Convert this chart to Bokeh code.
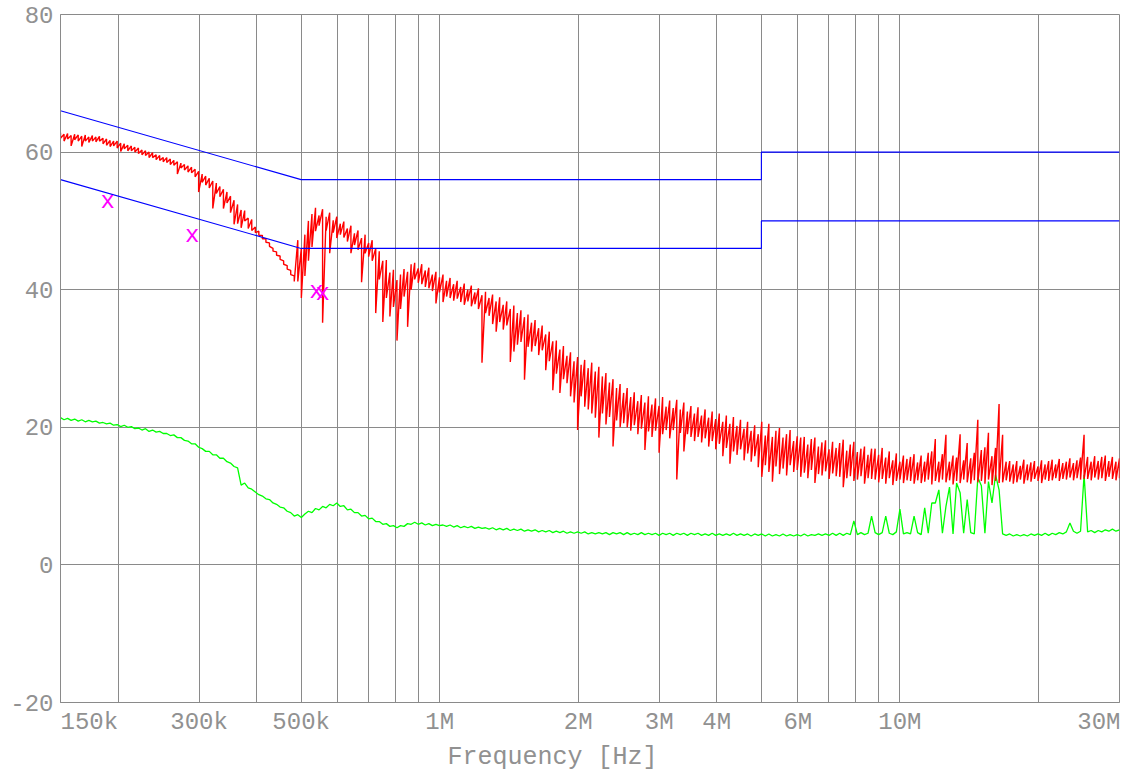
import numpy as np
from bokeh.plotting import figure
from bokeh.models import Range1d, FixedTicker
from bokeh.core.properties import value
from bokeh.embed import file_html
from bokeh.resources import INLINE

# ---------------- data ----------------
f_start = 150e3
f_stop = 30e6
n_points = 300

# peak-detector trace (dBuV): max and min of the trace within each display
# column (min/max decimated, as the receiver display does)
red_hi = [
    62.8, 62.6, 62.7, 62.4, 62.6, 62.5, 62.3, 62.5, 62.2, 62.4,
    62.2, 62.3, 62.0, 61.9, 61.7, 61.6, 61.6, 61.3, 61.2, 61.0,
    60.9, 60.7, 60.6, 60.3, 60.2, 60.0, 59.9, 59.6, 59.5, 59.2,
    59.2, 59.0, 58.8, 58.6, 58.4, 58.2, 58.0, 57.8, 57.5, 57.2,
    56.8, 56.5, 56.2, 55.8, 55.5, 55.0, 54.6, 54.2, 53.6, 53.0,
    52.4, 51.6, 51.5, 50.4, 50.2, 49.1, 48.5, 47.9, 47.4, 46.8,
    46.0, 45.5, 44.9, 44.2, 43.5, 42.8, 42.0, 47.2, 46.0, 48.0,
    50.0, 51.0, 51.9, 50.8, 51.7, 50.6, 51.2, 50.1, 50.6, 49.6,
    49.9, 48.9, 49.3, 48.2, 48.6, 47.5, 48.0, 46.8, 47.2, 46.0,
    45.6, 44.2, 44.3, 42.5, 42.9, 41.4, 42.2, 43.0, 42.6, 43.7,
    43.9, 43.1, 43.7, 42.8, 43.2, 42.2, 42.6, 41.8, 42.2, 41.3,
    41.7, 40.8, 41.3, 40.4, 40.9, 40.0, 40.6, 39.6, 40.2, 39.2,
    39.7, 38.8, 39.3, 38.3, 38.9, 37.8, 38.3, 37.2, 37.7, 36.6,
    37.0, 36.0, 36.4, 35.2, 35.6, 34.4, 34.8, 33.5, 33.9, 32.5,
    32.6, 31.3, 31.8, 30.4, 30.9, 29.6, 30.2, 29.1, 29.8, 28.6,
    29.4, 28.1, 28.8, 27.4, 27.9, 26.5, 27.0, 25.7, 26.3, 25.0,
    25.7, 24.4, 25.1, 23.8, 24.7, 23.6, 24.5, 23.3, 24.2, 23.1,
    24.4, 23.0, 23.9, 22.8, 24.0, 22.6, 23.6, 22.3, 23.1, 22.0,
    22.9, 21.7, 22.6, 21.4, 22.3, 21.2, 22.0, 20.8, 21.7, 20.5,
    21.5, 20.2, 21.1, 19.8, 20.8, 19.5, 20.3, 19.0, 20.8, 18.8,
    20.5, 18.6, 19.5, 19.9, 18.5, 19.0, 19.6, 18.0, 18.7, 18.5,
    18.6, 17.5, 18.3, 18.5, 17.2, 17.8, 18.1, 16.8, 17.9, 17.0,
    17.7, 18.2, 16.6, 17.5, 17.9, 16.4, 16.9, 17.2, 16.0, 16.9,
    16.9, 16.0, 17.0, 15.6, 16.5, 15.2, 16.2, 15.0, 15.9, 15.4,
    15.7, 16.1, 14.9, 15.9, 15.0, 16.3, 16.5, 18.3, 15.0, 16.1,
    18.9, 15.0, 15.9, 15.6, 19.0, 15.2, 17.7, 15.5, 16.3, 21.1,
    16.7, 17.1, 19.2, 15.8, 17.0, 23.4, 18.9, 15.0, 15.1, 14.6,
    15.1, 14.4, 15.3, 14.6, 14.9, 15.1, 14.3, 15.2, 14.6, 15.1,
    15.3, 14.6, 15.4, 14.8, 15.0, 15.5, 14.8, 15.2, 15.6, 18.9,
    15.7, 15.0, 15.8, 15.1, 15.7, 15.9, 15.1, 15.7, 15.0, 15.5,
]
red_lo = [
    62.0, 61.6, 61.9, 60.9, 61.8, 61.6, 60.8, 61.6, 61.4, 61.6,
    61.5, 61.6, 61.2, 61.0, 60.8, 60.9, 60.6, 60.1, 60.5, 60.2,
    60.2, 60.0, 59.8, 59.6, 59.5, 59.2, 59.2, 58.9, 58.8, 58.6,
    58.5, 58.2, 58.1, 56.8, 57.7, 57.4, 57.1, 57.0, 56.4, 54.2,
    55.6, 55.2, 54.8, 51.8, 54.0, 53.5, 51.8, 52.6, 51.2, 49.5,
    49.6, 49.0, 50.0, 48.9, 48.6, 48.3, 47.9, 47.4, 46.9, 46.3,
    45.6, 45.0, 44.4, 43.7, 43.0, 42.2, 41.2, 41.2, 38.8, 42.0,
    44.2, 46.2, 48.5, 49.3, 35.2, 48.6, 45.3, 48.3, 47.5, 48.0,
    47.6, 47.0, 45.3, 46.5, 45.8, 41.1, 45.3, 44.8, 44.2, 36.6,
    41.5, 35.3, 38.8, 36.1, 37.5, 32.6, 37.2, 39.0, 34.6, 40.0,
    41.5, 41.0, 40.8, 40.4, 40.2, 39.8, 38.0, 39.6, 38.2, 39.0,
    38.8, 38.4, 38.7, 38.2, 37.8, 38.3, 37.6, 37.9, 37.2, 29.4,
    36.6, 36.2, 35.0, 33.9, 35.3, 34.2, 34.8, 29.5, 31.0, 32.0,
    32.4, 26.9, 31.7, 31.0, 31.8, 30.5, 31.2, 28.3, 29.6, 25.4,
    27.8, 25.0, 27.0, 26.4, 24.5, 23.6, 19.6, 24.5, 23.0, 22.6,
    22.0, 21.4, 18.5, 22.0, 20.4, 21.5, 17.2, 21.0, 20.0, 20.6,
    20.0, 19.5, 20.3, 19.0, 19.8, 16.7, 19.4, 18.6, 19.5, 16.3,
    19.0, 19.6, 18.4, 19.6, 12.4, 19.2, 16.5, 19.0, 18.6, 18.0,
    18.6, 17.8, 18.4, 17.2, 18.0, 16.8, 17.6, 15.8, 17.0, 14.7,
    16.5, 16.0, 16.8, 15.2, 16.2, 15.0, 15.8, 14.2, 12.8, 14.5,
    13.5, 12.1, 14.3, 13.2, 14.0, 13.0, 14.5, 13.5, 13.8, 12.8,
    13.4, 12.6, 13.8, 11.9, 13.2, 13.0, 13.6, 12.5, 13.3, 12.9,
    12.8, 11.3, 12.6, 12.9, 12.2, 12.4, 12.9, 11.8, 12.6, 12.5,
    12.4, 12.0, 12.5, 11.8, 12.6, 11.6, 12.2, 12.4, 11.9, 12.3,
    12.2, 11.8, 12.3, 11.9, 12.1, 12.4, 11.7, 12.2, 12.0, 12.4,
    12.0, 12.3, 11.7, 12.2, 11.9, 12.4, 12.0, 11.8, 12.3, 12.0,
    12.2, 11.8, 12.4, 11.6, 12.2, 11.9, 12.0, 12.3, 12.1, 11.8,
    12.0, 12.4, 11.8, 12.3, 12.1, 12.5, 12.2, 11.9, 12.4, 12.2,
    12.3, 12.6, 12.2, 12.5, 12.4, 12.7, 12.3, 12.6, 12.4, 12.5,
    12.5, 12.3, 12.7, 12.4, 12.6, 12.2, 12.8, 12.5, 12.3, 12.6,
]

# average-detector trace (dBuV), one value per display column
green_db = [
    21.4, 21.1, 21.3, 21.0, 21.2, 20.9, 21.1, 20.8, 21.0, 20.8,
    20.9, 20.6, 20.7, 20.5, 20.6, 20.3, 20.4, 20.1, 20.3, 20.0,
    20.1, 19.8, 19.9, 19.6, 19.8, 19.4, 19.6, 19.3, 19.4, 19.1,
    19.1, 18.8, 18.9, 18.5, 18.5, 18.1, 18.0, 17.6, 17.6, 17.1,
    16.9, 16.5, 16.5, 16.0, 16.0, 15.5, 15.5, 15.0, 14.8, 14.3,
    14.1, 11.6, 11.9, 11.2, 11.0, 10.6, 10.2, 10.0, 9.6, 9.5,
    9.0, 8.8, 8.4, 8.3, 7.8, 7.6, 7.1, 7.3, 6.9, 7.4,
    7.8, 7.6, 8.2, 8.0, 8.5, 8.3, 8.8, 8.6, 9.0, 8.5,
    8.6, 8.0, 8.1, 7.6, 7.6, 7.1, 7.2, 6.7, 6.8, 6.3,
    6.3, 5.9, 6.0, 5.6, 5.7, 5.4, 5.7, 5.6, 6.0, 5.9,
    6.2, 5.9, 6.1, 5.8, 6.0, 5.7, 5.9, 5.7, 5.8, 5.6,
    5.8, 5.5, 5.7, 5.4, 5.6, 5.4, 5.6, 5.3, 5.5, 5.3,
    5.4, 5.2, 5.4, 5.1, 5.3, 5.1, 5.3, 5.0, 5.2, 5.0,
    5.2, 4.9, 5.1, 4.9, 5.1, 4.8, 5.0, 4.8, 5.0, 4.7,
    4.9, 4.7, 4.9, 4.6, 4.8, 4.6, 4.8, 4.6, 4.8, 4.5,
    4.7, 4.5, 4.7, 4.5, 4.7, 4.4, 4.7, 4.5, 4.7, 4.4,
    4.7, 4.4, 4.6, 4.4, 4.7, 4.4, 4.6, 4.4, 4.6, 4.3,
    4.6, 4.4, 4.6, 4.3, 4.6, 4.4, 4.6, 4.3, 4.6, 4.4,
    4.6, 4.3, 4.5, 4.3, 4.6, 4.3, 4.5, 4.3, 4.5, 4.3,
    4.6, 4.3, 4.5, 4.3, 4.5, 4.2, 4.5, 4.3, 4.5, 4.2,
    4.5, 4.2, 4.4, 4.2, 4.5, 4.2, 4.4, 4.2, 4.4, 4.2,
    4.5, 4.2, 4.4, 4.3, 4.5, 4.3, 4.5, 4.3, 4.6, 4.3,
    4.6, 4.3, 4.6, 4.4, 6.4, 4.4, 4.7, 4.4, 4.6, 7.1,
    4.7, 4.4, 4.7, 7.1, 4.6, 4.4, 4.8, 8.1, 4.5, 4.7,
    4.5, 7.1, 4.7, 4.4, 8.3, 4.6, 9.0, 9.0, 10.9, 4.6,
    8.5, 11.3, 4.5, 11.9, 10.5, 4.6, 9.5, 4.7, 4.5, 12.7,
    11.5, 4.6, 12.1, 9.0, 13.1, 10.9, 4.5, 4.3, 4.5, 4.2,
    4.4, 4.2, 4.4, 4.2, 4.5, 4.3, 4.5, 4.3, 4.6, 4.3,
    4.6, 4.4, 4.7, 4.5, 4.8, 6.1, 4.9, 4.6, 4.9, 13.1,
    4.8, 5.0, 4.7, 5.0, 4.8, 5.1, 4.9, 5.2, 4.9, 5.1,
]

# limit lines (CISPR class B, quasi-peak and average)
limit_freq = [150e3, 500e3, 5e6, 5e6, 30e6]
limit_qp = [66, 56, 56, 60, 60]
limit_av = [56, 46, 46, 50, 50]

# final measurement markers
marker_freq = [190e3, 290e3, 540e3, 557e3]
marker_db = [52.8, 47.9, 39.8, 39.5]

# axes
x_tick_values = [150e3, 300e3, 500e3, 1e6, 2e6, 3e6, 4e6, 6e6, 10e6, 30e6]
x_tick_labels = ["150k", "300k", "500k", "1M", "2M", "3M", "4M", "6M", "10M", "30M"]
x_grid_values = [200e3, 300e3, 400e3, 500e3, 600e3, 700e3, 800e3, 900e3,
                 1e6, 2e6, 3e6, 4e6, 5e6, 6e6, 7e6, 8e6, 9e6, 10e6, 20e6]
y_tick_values = [-20, 0, 20, 40, 60, 80]
y_tick_labels = ["-20", "0", "20", "40", "60", "80"]
x_title = "Frequency [Hz]"

# display columns of the receiver (log sweep)
sweep_freq = np.geomspace(f_start, f_stop, n_points)

# ---------------- figure ----------------
FONT = "Liberation Mono"
TXT = "#919191"
GRID = "#8a8a8a"
NBSP = "\u00a0"
SIXTH = "\u2006"

p = figure(width=1128, height=774, x_axis_type="log",
           x_range=Range1d(f_start, f_stop), y_range=Range1d(-20, 80),
           output_backend="svg", toolbar_location=None,
           min_border_left=60, min_border_right=9, min_border_top=14,
           min_border_bottom=71)
p.background_fill_color = "white"
p.border_fill_color = "white"
p.outline_line_color = GRID
p.outline_line_width = 1

p.xgrid.ticker = FixedTicker(ticks=x_grid_values)
p.ygrid.ticker = FixedTicker(ticks=y_tick_values)
for g in (p.xgrid, p.ygrid):
    g.grid_line_color = GRID
    g.grid_line_width = 1
    g.grid_line_alpha = 1.0

xa = p.xaxis[0]
xa.ticker = FixedTicker(ticks=x_tick_values)
overrides = {v: l for v, l in zip(x_tick_values, x_tick_labels)}
# the end labels are kept inside the frame (left / right aligned)
first = x_tick_labels[0]
last = x_tick_labels[-1]
overrides[x_tick_values[0]] = NBSP * len(first) + first
overrides[x_tick_values[-1]] = last + SIXTH * 2
xa.major_label_overrides = overrides
xa.axis_label = x_title + NBSP * 5

ya = p.yaxis[0]
ya.ticker = FixedTicker(ticks=y_tick_values)
ya.major_label_overrides = {v: l for v, l in zip(y_tick_values, y_tick_labels)}

for ax in (xa, ya):
    ax.axis_line_color = GRID
    ax.major_tick_line_color = None
    ax.minor_tick_line_color = None
    ax.major_tick_out = 0
    ax.major_tick_in = 0
    ax.major_label_text_font = FONT
    ax.major_label_text_font_size = "24px"
    ax.major_label_text_color = TXT
    ax.axis_label_text_font = FONT
    ax.axis_label_text_font_size = "25px"
    ax.axis_label_text_color = TXT
    ax.axis_label_text_font_style = "normal"
xa.major_label_standoff = 6
xa.axis_label_standoff = 4
ya.major_label_standoff = 7

# traces
p.line(list(sweep_freq), green_db, line_color="#00ff00", line_width=1.3)
red_x = np.repeat(sweep_freq, 2)
red_y = np.column_stack([red_hi, red_lo]).ravel()
p.line(list(red_x), list(red_y), line_color="#ff0000", line_width=1.4)

# limits
p.line(limit_freq, limit_qp, line_color="#0000ff", line_width=1.1)
p.line(limit_freq, limit_av, line_color="#0000ff", line_width=1.1)

# markers
p.text(x=marker_freq, y=marker_db, text=["x"] * len(marker_freq),
       text_font=value(FONT), text_font_size="24px", text_color="#ff00ff",
       text_align="center", text_baseline="middle")

open("out.html", "w").write(file_html(p, INLINE))
